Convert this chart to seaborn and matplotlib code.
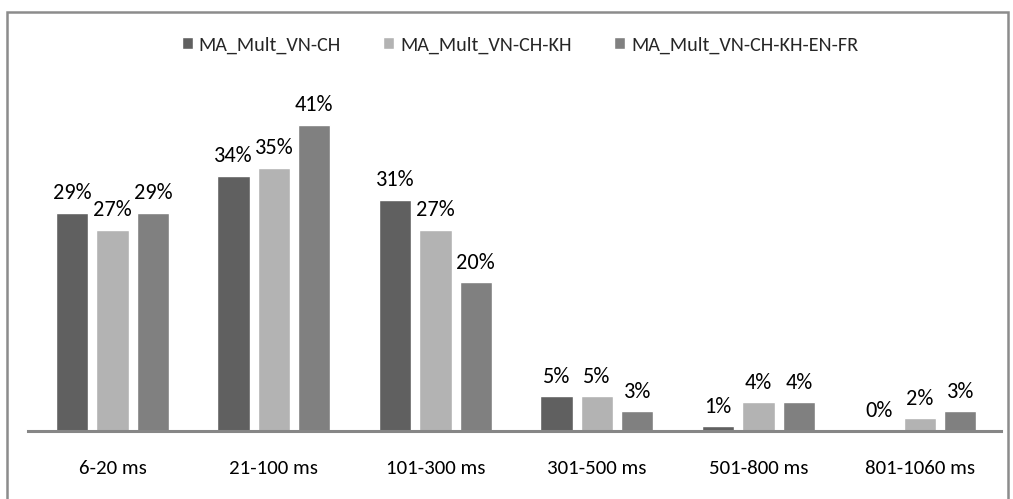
import pandas as pd
import matplotlib.pyplot as plt
import seaborn as sns
from matplotlib.patches import Rectangle

## Response time distribution per model (bar chart)

categories = ["6-20 ms", "21-100 ms", "101-300 ms", "301-500 ms", "501-800 ms", "801-1060 ms"]
series_names = ["MA_Mult_VN-CH", "MA_Mult_VN-CH-KH", "MA_Mult_VN-CH-KH-EN-FR"]
vn_ch = [29.0, 34.0, 30.8, 4.6, 0.6, 0.0]
vn_ch_kh = [26.8, 35.0, 26.8, 4.6, 3.8, 1.7]
vn_ch_kh_en_fr = [29.0, 40.8, 19.8, 2.6, 3.8, 2.6]
colors = ["#606060", "#b3b3b3", "#808080"]

# long form table for seaborn
rows = []
for name, vals in zip(series_names, [vn_ch, vn_ch_kh, vn_ch_kh_en_fr]):
    for cat, v in zip(categories, vals):
        rows.append({"range": cat, "model": name, "share": v})
df = pd.DataFrame(rows)

sns.set_style("white")
plt.rcParams["font.family"] = ["Carlito", "DejaVu Sans"]

fig = plt.figure(figsize=(10.13, 4.99), dpi=100)
ax = fig.add_axes([28 / 1013, 68 / 499, 973 / 1013, 338 / 499])

sns.barplot(data=df, x="range", y="share", hue="model", order=categories,
            hue_order=series_names, palette=colors, width=0.75, gap=0.2,
            saturation=1, ax=ax, legend=True)

# percentage labels above the bars
for cont in ax.containers:
    ax.bar_label(cont, labels=["%d%%" % round(b.get_height() + 0.001) for b in cont],
                 padding=7, fontsize=16, color="#000000")

ax.set_ylim(0, 45)
ax.set_xlim(-0.523, 5.502)
ax.set_xlabel("")
ax.set_ylabel("")
ax.set_yticks([])
ax.tick_params(axis="x", length=0, labelsize=15, pad=21, colors="#000000")
for s in ["top", "right", "left"]:
    ax.spines[s].set_visible(False)
ax.spines["bottom"].set_color("#868686")
ax.spines["bottom"].set_linewidth(2.2)

leg = ax.legend(loc="center", bbox_to_anchor=(520 / 1013, 1 - 45 / 499),
                bbox_transform=fig.transFigure, ncol=3, frameon=False,
                fontsize=14.5, handlelength=0.55, handleheight=0.55,
                handletextpad=0.3, columnspacing=2.1)

# outer frame of the chart area
fig.patches.append(Rectangle((7 / 1013, -0.05), 1001 / 1013, 1.05 - 12 / 499,
                             transform=fig.transFigure, fill=False,
                             edgecolor="#8c8c8c", linewidth=1.8))

fig.savefig("out.png", dpi=100)
